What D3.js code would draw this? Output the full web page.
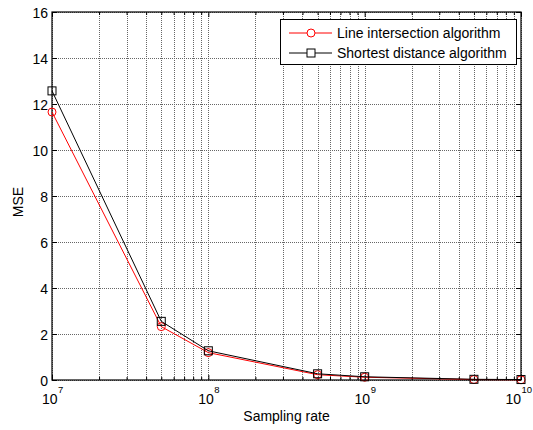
<!DOCTYPE html>
<html><head><meta charset="utf-8">
<script src="https://cdn.jsdelivr.net/npm/d3@7"></script>
<style>body{margin:0;background:#fff}svg{display:block}text{font-family:Arial,"Liberation Sans",sans-serif;fill:#000}</style>
</head><body>
<svg id="c" width="533" height="430"></svg>
<script>
const samplingRates = [1e7, 5e7, 1e8, 5e8, 1e9, 5e9, 1e10];
const lineIntersection = [11.65, 2.32, 1.19, 0.23, 0.12, 0.02, 0.01];
const shortestDistance = [12.57, 2.55, 1.27, 0.27, 0.14, 0.03, 0.02];
const seriesNames = ["Line intersection algorithm", "Shortest distance algorithm"];
const yTicks = [0, 2, 4, 6, 8, 10, 12, 14, 16];
const xMajorExps = [7, 8, 9, 10];

const svg = d3.select("#c");
const L = 52, R = 521, T = 12, B = 380;
const x = d3.scaleLog().domain([1e7, 1e10]).range([L, R]);
const y = d3.scaleLinear().domain([0, 16]).range([B, T]);

const minor = [];
for (let e = 7; e < 10; e++) for (let m = 2; m <= 9; m++) minor.push(m * Math.pow(10, e));
const major = xMajorExps.map(e => Math.pow(10, e));

const g = svg.append("g");
const gridStyle = s => s.attr("stroke", "#666").attr("stroke-width", 1).attr("stroke-dasharray", "1,1");
g.selectAll(".gx").data(major.concat(minor)).join("line")
  .attr("x1", d => Math.round(x(d)) + 0.5).attr("x2", d => Math.round(x(d)) + 0.5)
  .attr("y1", T).attr("y2", B).call(gridStyle);
g.selectAll(".gy").data(yTicks).join("line")
  .attr("x1", L).attr("x2", R)
  .attr("y1", d => Math.round(y(d)) + 0.5).attr("y2", d => Math.round(y(d)) + 0.5).call(gridStyle);

const xAxisB = d3.axisBottom(x).tickValues(major).tickSize(-5).tickFormat("");
const xAxisBm = d3.axisBottom(x).tickValues(minor).tickSize(-3).tickFormat("");
const xAxisT = d3.axisTop(x).tickValues(major).tickSize(-5).tickFormat("");
const xAxisTm = d3.axisTop(x).tickValues(minor).tickSize(-3).tickFormat("");
const yAxisL = d3.axisLeft(y).tickValues(yTicks).tickSize(-5).tickPadding(4);
const yAxisR = d3.axisRight(y).tickValues(yTicks).tickSize(-5).tickFormat("");
function styleAxis(sel){ sel.select(".domain").remove(); sel.selectAll("line").attr("stroke","#000"); }
g.append("g").attr("transform", `translate(0,${B})`).call(xAxisB).call(styleAxis);
g.append("g").attr("transform", `translate(0,${B})`).call(xAxisBm).call(styleAxis);
g.append("g").attr("transform", `translate(0,${T})`).call(xAxisT).call(styleAxis);
g.append("g").attr("transform", `translate(0,${T})`).call(xAxisTm).call(styleAxis);
const yl = g.append("g").attr("transform", `translate(${L},0)`).call(yAxisL).call(styleAxis);
yl.selectAll("text").attr("font-size", 14).attr("font-family", "Arial,'Liberation Sans',sans-serif").attr("dy", "0.36em");
g.append("g").attr("transform", `translate(${R},0)`).call(yAxisR).call(styleAxis);

// x tick labels 10^n
const baseEnd = d => Math.min(x(Math.pow(10, d)) + 5.5, 521);
g.selectAll(".xb").data(xMajorExps).join("text")
  .attr("x", baseEnd).attr("y", 404)
  .attr("text-anchor", "end").attr("font-size", 14).text("10");
g.selectAll(".xe").data(xMajorExps).join("text")
  .attr("x", d => baseEnd(d) + 0.5)
  .attr("y", 393)
  .attr("text-anchor", "start")
  .attr("font-size", 9.5).text(d => d);

g.append("rect").attr("x", L).attr("y", T).attr("width", R - L).attr("height", B - T)
  .attr("fill", "none").attr("stroke", "#000").attr("stroke-width", 1.2);

const line = d3.line().x(d => x(d[0])).y(d => y(d[1]));
const ser = [
  {name: seriesNames[0], vals: lineIntersection, color: "#ff0000", marker: "circle"},
  {name: seriesNames[1], vals: shortestDistance, color: "#000000", marker: "square"}
];
ser.forEach(s => {
  const pts = samplingRates.map((r, i) => [r, s.vals[i]]);
  g.append("path").datum(pts).attr("d", line).attr("fill", "none").attr("stroke", s.color).attr("stroke-width", 1);
  if (s.marker === "circle") {
    g.selectAll(null).data(pts).join("circle").attr("cx", d => x(d[0])).attr("cy", d => y(d[1])).attr("r", 4)
      .attr("fill", "none").attr("stroke", s.color).attr("stroke-width", 1);
  } else {
    g.selectAll(null).data(pts).join("rect").attr("x", d => x(d[0]) - 4).attr("y", d => y(d[1]) - 4)
      .attr("width", 8).attr("height", 8).attr("fill", "none").attr("stroke", s.color).attr("stroke-width", 1);
  }
});

svg.append("text").attr("x", (L + R) / 2).attr("y", 421).attr("text-anchor", "middle").attr("font-size", 14).text("Sampling rate");
svg.append("text").attr("transform", `translate(23,202) rotate(-90)`).attr("text-anchor", "middle").attr("font-size", 14).text("MSE");

const lg = svg.append("g");
lg.append("rect").attr("x", 280.5).attr("y", 19.5).attr("width", 236).attr("height", 45)
  .attr("fill", "#fff").attr("stroke", "#000").attr("stroke-width", 1);
ser.forEach((s, i) => {
  const cy = 33 + i * 20;
  lg.append("line").attr("x1", 289).attr("x2", 332).attr("y1", cy).attr("y2", cy).attr("stroke", s.color).attr("stroke-width", 1);
  if (s.marker === "circle") lg.append("circle").attr("cx", 311).attr("cy", cy).attr("r", 4).attr("fill", "#fff").attr("stroke", s.color);
  else lg.append("rect").attr("x", 307).attr("y", cy - 4).attr("width", 8).attr("height", 8).attr("fill", "#fff").attr("stroke", s.color);
  lg.append("text").attr("x", 337).attr("y", cy + 5).attr("font-size", 14).text(s.name);
});
</script>
</body></html>
